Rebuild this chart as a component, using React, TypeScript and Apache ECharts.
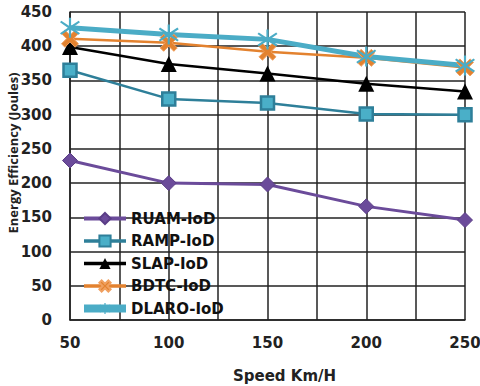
import React, { useEffect, useRef } from "react";
import * as echarts from "echarts";

const speeds = [50, 100, 150, 200, 250];
const ruam = [233, 200, 198, 166, 146];
const ramp = [365, 323, 317, 301, 300];
const slap = [399, 374, 360, 345, 334];
const bdtc = [411, 405, 392, 383, 369];
const dlaro = [427, 417, 410, 385, 372];
const seriesNames = ["RUAM-IoD", "RAMP-IoD", "SLAP-IoD", "BDTC-IoD", "DLARO-IoD"];
const yTitle = "Energy Efficiency (Joules)";
const xTitle = "Speed Km/H";

const xSym = "path://M2,0 L5,3 L8,0 L10,2 L7,5 L10,8 L8,10 L5,7 L2,10 L0,8 L3,5 L0,2 Z";
const starSym = "path://M4.5,0 L5.5,0 L5.5,4 L9,1.5 L9.6,2.3 L6,5 L9.6,7.7 L9,8.5 L5.5,6 L5.5,10 L4.5,10 L4.5,6 L1,8.5 L0.4,7.7 L4,5 L0.4,2.3 L1,1.5 L4.5,4 Z";

export default function App() {
  const ref = useRef<HTMLDivElement>(null);
  useEffect(() => {
    const chart = echarts.init(ref.current!, null, { renderer: "svg" });
    const wide = "'DejaVu Sans', sans-serif";
    const narrow = "'Open Sans', sans-serif";
    const mk = (d: number[]) => d.map((v, i) => [speeds[i], v]);
    chart.setOption({
      animation: false,
      backgroundColor: "#fff",
      grid: { left: 70, right: 15, top: 12, bottom: 66, outerBoundsMode: "none", containLabel: false },
      graphic: [
        {
          type: "text",
          x: 13,
          y: 153,
          rotation: Math.PI / 2,
          style: {
            text: yTitle,
            fontFamily: narrow,
            fontSize: 13,
            fontWeight: "bold",
            fill: "#222",
            align: "center",
            verticalAlign: "middle",
          },
        },
      ],
      legend: {
        orient: "vertical",
        left: 80,
        top: 211,
        padding: 0,
        itemWidth: 42,
        itemHeight: 14,
        itemGap: 7.5,
        textStyle: { fontFamily: wide, fontSize: 15, fontWeight: "bold", color: "#111" },
        data: [
          { name: seriesNames[0], lineStyle: { width: 4 } },
          { name: seriesNames[1], lineStyle: { width: 3.5 } },
          { name: seriesNames[2], lineStyle: { width: 3.5 } },
          { name: seriesNames[3], lineStyle: { width: 3.5 } },
          { name: seriesNames[4], lineStyle: { width: 8 } },
        ],
      },
      xAxis: {
        type: "value",
        min: 50,
        max: 250,
        interval: 25,
        name: xTitle,
        nameLocation: "middle",
        nameGap: 48,
        nameTextStyle: { fontFamily: wide, fontSize: 15, fontWeight: "bold", color: "#222", padding: [0, 0, 0, 34] },
        axisLine: { show: true, lineStyle: { color: "#222", width: 1.5 } },
        axisTick: { show: false },
        axisLabel: {
          fontFamily: wide, fontSize: 15, fontWeight: "bold", color: "#222", margin: 15,
          formatter: (v: number) => (v % 50 === 0 ? String(v) : ""),
        },
        splitLine: { show: true, lineStyle: { color: "#222", width: 1.5 } },
      },
      yAxis: {
        type: "value",
        min: 0,
        max: 450,
        interval: 50,
        axisLine: { show: true, lineStyle: { color: "#222", width: 1.5 } },
        axisTick: { show: false },
        axisLabel: { fontFamily: wide, fontSize: 15, fontWeight: "bold", color: "#222", margin: 18 },
        splitLine: { show: true, lineStyle: { color: "#222", width: 1.5 } },
      },
      series: [
        {
          name: seriesNames[0], type: "line", data: mk(ruam),
          symbol: "diamond", symbolSize: 15,
          lineStyle: { color: "#6B4B9A", width: 3 },
          itemStyle: { color: "#6B4B9A", borderColor: "#5a3d86", borderWidth: 1 },
        },
        {
          name: seriesNames[1], type: "line", data: mk(ramp),
          symbol: "rect", symbolSize: 13,
          lineStyle: { color: "#2E7F99", width: 2.5 },
          itemStyle: { color: "#4AAFC8", borderColor: "#2E7F99", borderWidth: 2.5 },
        },
        {
          name: seriesNames[2], type: "line", data: mk(slap),
          symbol: "triangle", symbolSize: 16,
          lineStyle: { color: "#000", width: 2.5 },
          itemStyle: { color: "#000" },
        },
        {
          name: seriesNames[3], type: "line", data: mk(bdtc),
          symbol: xSym, symbolSize: 17,
          lineStyle: { color: "#E3822F", width: 2.5 },
          itemStyle: { color: "#E3822F", borderColor: "#F0A060", borderWidth: 1 },
        },
        {
          name: seriesNames[4], type: "line", data: mk(dlaro),
          symbol: starSym, symbolSize: 20,
          lineStyle: { color: "#4BACC6", width: 5 },
          itemStyle: { color: "#4BACC6" },
        },
      ],
    });
    return () => chart.dispose();
  }, []);
  return <div ref={ref} style={{ width: 480, height: 386, position: "absolute", left: 0, top: 0 }} />;
}
